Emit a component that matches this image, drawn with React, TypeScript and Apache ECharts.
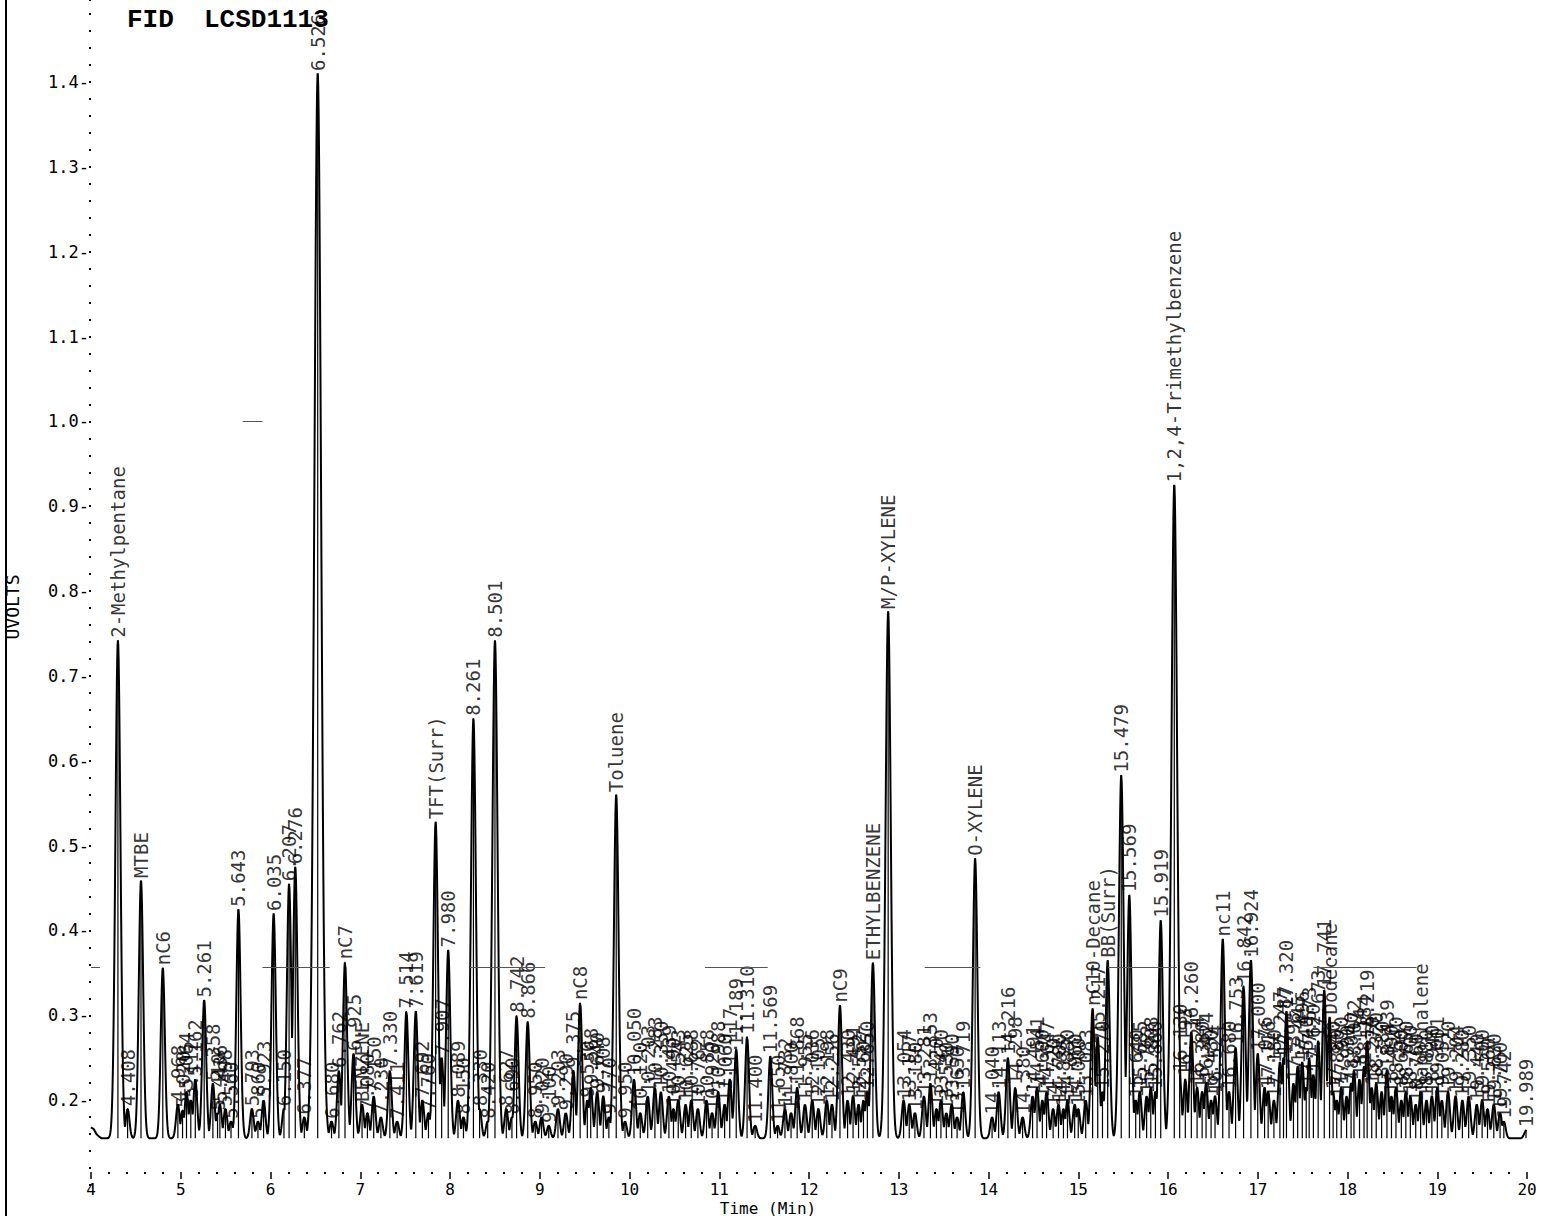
import React, { useEffect, useRef } from "react";
import * as echarts from "echarts";

// Signal baseline (UVOLTS)
const BASE = 0.155;

// Leading tail of the trace before the first peak: [time, value]
const startTail: [number, number][] = [
  [4.0, 0.168], [4.03, 0.166], [4.06, 0.16], [4.09, 0.157], [4.12, 0.155],
];

// Peaks: [retention time (min), apex height (UVOLTS)]
const peaks4to8: [number, number][] = [
  [4.3, 0.742], [4.408, 0.19], [4.557, 0.459], [4.8, 0.356], [4.968, 0.195], [5.02, 0.188],
  [5.064, 0.21], [5.112, 0.2], [5.162, 0.225], [5.261, 0.318], [5.358, 0.22], [5.41, 0.185],
  [5.436, 0.195], [5.498, 0.19], [5.56, 0.175], [5.643, 0.425], [5.793, 0.19], [5.86, 0.175],
  [5.923, 0.2], [6.035, 0.42], [6.15, 0.19], [6.207, 0.455], [6.276, 0.475], [6.377, 0.18],
  [6.526, 1.41], [6.68, 0.175], [6.762, 0.235], [6.83, 0.363], [6.925, 0.255], [7.02, 0.195],
  [7.08, 0.185], [7.15, 0.205], [7.23, 0.18], [7.33, 0.235], [7.411, 0.175], [7.514, 0.305],
  [7.619, 0.305], [7.692, 0.2], [7.76, 0.185], [7.84, 0.528], [7.907, 0.25], [7.98, 0.377],
];
const peaks8to12: [number, number][] = [
  [8.089, 0.2], [8.15, 0.18], [8.261, 0.65], [8.33, 0.19], [8.42, 0.175], [8.501, 0.742],
  [8.627, 0.19], [8.69, 0.18], [8.742, 0.3], [8.866, 0.293], [8.95, 0.175], [9.02, 0.18],
  [9.1, 0.17], [9.203, 0.19], [9.29, 0.185], [9.375, 0.235], [9.45, 0.315], [9.53, 0.2],
  [9.568, 0.215], [9.64, 0.21], [9.708, 0.205], [9.77, 0.18], [9.852, 0.56], [9.95, 0.175],
  [10.05, 0.225], [10.12, 0.185], [10.203, 0.205], [10.283, 0.215], [10.35, 0.21], [10.439, 0.205],
  [10.49, 0.19], [10.543, 0.2], [10.625, 0.195], [10.688, 0.2], [10.762, 0.19], [10.858, 0.2],
  [10.92, 0.185], [10.988, 0.21], [11.06, 0.195], [11.117, 0.225], [11.189, 0.26], [11.31, 0.275],
  [11.4, 0.17], [11.569, 0.252], [11.65, 0.17], [11.732, 0.19], [11.8, 0.185], [11.868, 0.215],
  [11.955, 0.195],
];
const peaks12to16: [number, number][] = [
  [12.036, 0.2], [12.105, 0.19], [12.198, 0.2], [12.256, 0.195], [12.345, 0.312], [12.43, 0.2],
  [12.491, 0.205], [12.552, 0.195], [12.607, 0.2], [12.65, 0.21], [12.712, 0.362], [12.882, 0.776],
  [13.054, 0.2], [13.117, 0.195], [13.18, 0.185], [13.281, 0.205], [13.353, 0.22], [13.42, 0.19],
  [13.47, 0.2], [13.53, 0.185], [13.59, 0.195], [13.65, 0.18], [13.719, 0.21], [13.851, 0.485],
  [14.04, 0.18], [14.113, 0.21], [14.216, 0.25], [14.298, 0.215], [14.38, 0.18], [14.491, 0.205],
  [14.541, 0.215], [14.6, 0.2], [14.647, 0.21], [14.72, 0.19], [14.78, 0.195], [14.835, 0.19],
  [14.88, 0.2], [14.96, 0.195], [15.0, 0.19], [15.083, 0.2], [15.16, 0.308], [15.217, 0.275],
  [15.27, 0.21], [15.328, 0.365], [15.479, 0.583], [15.569, 0.442], [15.64, 0.2], [15.685, 0.21],
  [15.762, 0.205], [15.808, 0.215], [15.86, 0.21], [15.919, 0.412],
];
const peaks16to20: [number, number][] = [
  [16.07, 0.925], [16.13, 0.23], [16.193, 0.225], [16.26, 0.28], [16.324, 0.215], [16.38, 0.21],
  [16.424, 0.22], [16.48, 0.2], [16.524, 0.205], [16.61, 0.39], [16.68, 0.21], [16.753, 0.262],
  [16.842, 0.335], [16.924, 0.365], [17.0, 0.255], [17.076, 0.215], [17.116, 0.21], [17.18, 0.2],
  [17.247, 0.245], [17.287, 0.25], [17.32, 0.305], [17.398, 0.22], [17.445, 0.24], [17.496, 0.245],
  [17.54, 0.215], [17.573, 0.25], [17.62, 0.23], [17.673, 0.27], [17.741, 0.33], [17.8, 0.298],
  [17.84, 0.21], [17.88, 0.2], [17.93, 0.215], [17.99, 0.205], [18.04, 0.22], [18.072, 0.235],
  [18.134, 0.225], [18.184, 0.24], [18.219, 0.27], [18.27, 0.215], [18.32, 0.22], [18.38, 0.21],
  [18.439, 0.235], [18.49, 0.205], [18.54, 0.215], [18.6, 0.2], [18.65, 0.21], [18.7, 0.205],
  [18.76, 0.195], [18.815, 0.21], [18.88, 0.2], [18.94, 0.205], [19.001, 0.215], [19.051, 0.2],
  [19.12, 0.21], [19.204, 0.205], [19.28, 0.2], [19.35, 0.205], [19.44, 0.195], [19.5, 0.2],
  [19.56, 0.19], [19.63, 0.195], [19.7, 0.185], [19.742, 0.175], [19.989, 0.165],
];

// Compound names for identified peaks (keyed by retention time)
const peakNames: Record<string, string> = {
  "4.300": "2-Methylpentane",
  "4.557": "MTBE",
  "4.800": "nC6",
  "6.830": "nC7",
  "7.020": "BENZENE",
  "7.840": "TFT(Surr)",
  "9.450": "nC8",
  "9.852": "Toluene",
  "12.345": "nC9",
  "12.712": "ETHYLBENZENE",
  "12.882": "M/P-XYLENE",
  "13.851": "O-XYLENE",
  "15.160": "nC10-Decane",
  "15.328": "BB(Surr)",
  "16.070": "1,2,4-Trimethylbenzene",
  "16.610": "nc11",
  "17.800": "Dodecane",
  "18.815": "Naphthalene",
};

// Faint horizontal scan lines: [from time, to time, level]
const scanLines: [number, number, number][] = [
  [4.0, 4.1, 0.357], [5.91, 6.66, 0.357], [8.22, 9.06, 0.357], [10.84, 11.54, 0.357],
  [13.29, 13.91, 0.357], [15.33, 16.1, 0.357], [17.62, 18.77, 0.357], [5.69, 5.91, 1.0],
];

const allPeaks: [number, number][] = [...peaks4to8, ...peaks8to12, ...peaks12to16, ...peaks16to20];

function peakSigma(h: number) {
  return 0.02 + 0.014 * (h - BASE);
}

function buildTrace(): [number, number][] {
  const times: number[] = [];
  for (let i = 0; i <= 3960; i++) times.push(4.12 + i * 0.004);
  allPeaks.forEach(([t]) => times.push(t));
  times.sort((a, b) => a - b);
  const out: [number, number][] = [...startTail];
  for (const t of times) {
    if (t > 20) break;
    let v = BASE;
    for (const [pt, h] of allPeaks) {
      const s = peakSigma(h);
      const d = (t - pt) / s;
      if (d > -5 && d < 5) {
        const y = BASE + (h - BASE) * Math.exp(-0.5 * d * d);
        if (y > v) v = y;
      }
    }
    out.push([t, v]);
  }
  return out;
}

const MONO = "DejaVu Sans Mono";

export default function App() {
  const ref = useRef<HTMLDivElement>(null);
  useEffect(() => {
    if (!ref.current) return;
    const chart = echarts.init(ref.current, undefined, { renderer: "svg" });
    const labelData = allPeaks.map(([t, h]) => {
      const key = t.toFixed(3);
      return { name: peakNames[key] ?? key, value: [t, h] };
    });
    chart.setOption({
      animation: false,
      backgroundColor: "#ffffff",
      grid: { left: 91, right: 23, top: 0, bottom: 31, containLabel: false },
      xAxis: {
        type: "value",
        min: 4,
        max: 20,
        interval: 1,
        offset: -13,
        axisLine: { show: false },
        axisTick: { show: true, length: 7, lineStyle: { color: "#000", width: 1.5 } },
        minorTick: { show: true, splitNumber: 5, length: 2, lineStyle: { color: "#000", width: 2 } },
        splitLine: { show: false },
        axisLabel: { margin: 9, fontFamily: MONO, fontSize: 16, color: "#000" },
      },
      yAxis: {
        type: "value",
        min: 0.1,
        max: 1.4966,
        interval: 0.1,
        axisLine: { show: false },
        axisTick: { show: true, length: 2, lineStyle: { color: "#000", width: 2 } },
        minorTick: { show: true, splitNumber: 5, length: 2, lineStyle: { color: "#000", width: 2 } },
        splitLine: { show: false },
        axisLabel: {
          margin: 2,
          fontFamily: MONO,
          fontSize: 17,
          color: "#000",
          formatter: (v: number) => (v > 0.15 && v < 1.45 ? v.toFixed(1) + "-" : ""),
        },
      },
      series: [
        {
          type: "line",
          data: buildTrace(),
          showSymbol: false,
          symbol: "none",
          lineStyle: { color: "#000", width: 2 },
          silent: true,
          markLine: {
            silent: true,
            symbol: "none",
            label: { show: false },
            lineStyle: { color: "#555", width: 1, type: "solid" },
            data: scanLines.map(([a, b, v]) => [{ coord: [a, v] }, { coord: [b, v] }]),
          },
        },
        {
          type: "custom",
          data: allPeaks,
          silent: true,
          renderItem: (params: any, api: any) => {
            const top = api.coord([api.value(0), api.value(1)]);
            const bot = api.coord([api.value(0), BASE]);
            return {
              type: "line",
              shape: { x1: top[0], y1: top[1], x2: bot[0], y2: bot[1] },
              style: { stroke: "#000", lineWidth: 1.2 },
            };
          },
        },
        {
          type: "scatter",
          data: labelData,
          symbolSize: 1,
          itemStyle: { color: "rgba(0,0,0,0)" },
          silent: true,
          label: {
            show: true,
            position: "top",
            distance: 2,
            rotate: 90,
            align: "left",
            verticalAlign: "middle",
            fontFamily: MONO,
            fontSize: 19,
            color: "#000",
            formatter: (p: any) => p.name,
          },
        },
      ],
      graphic: [
        { type: "line", shape: { x1: 6, y1: 0, x2: 6, y2: 1216 }, style: { stroke: "#000", lineWidth: 2 } },
        {
          type: "text",
          x: 12,
          y: 607,
          rotation: Math.PI / 2,
          style: { text: "UVOLTS", font: `18px "${MONO}"`, fill: "#000", align: "center", verticalAlign: "middle" },
        },
        {
          type: "text",
          x: 127,
          y: 20,
          style: { text: "FID", font: 'bold 26px "Liberation Mono"', fill: "#000", align: "left", verticalAlign: "middle" },
        },
        {
          type: "text",
          x: 204,
          y: 20,
          style: { text: "LCSD1113", font: 'bold 26px "Liberation Mono"', fill: "#000", align: "left", verticalAlign: "middle" },
        },
        {
          type: "text",
          x: 768,
          y: 1208,
          style: { text: "Time (Min)", font: `16px "${MONO}"`, fill: "#000", align: "center", verticalAlign: "middle" },
        },
      ],
    });
    return () => chart.dispose();
  }, []);
  return (
    <div
      ref={ref}
      style={{ position: "fixed", left: 0, top: 0, width: 1550, height: 1216, background: "#fff" }}
    />
  );
}
